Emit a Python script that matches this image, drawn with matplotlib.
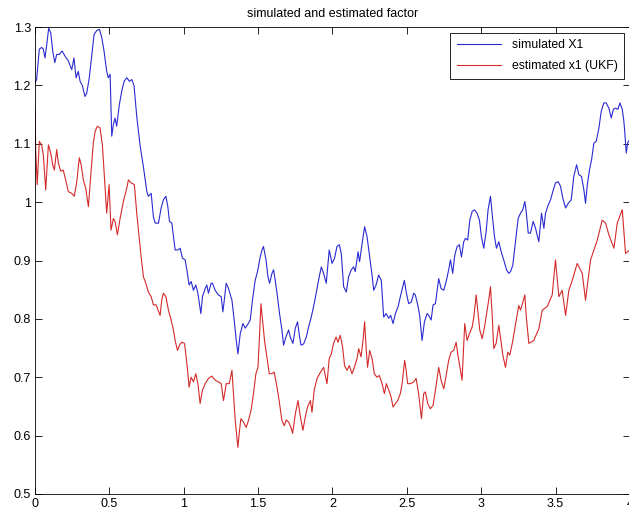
import matplotlib
matplotlib.use("Agg")
import matplotlib.pyplot as plt
import numpy as np

plt.rcParams['font.family'] = ['Liberation Sans', 'DejaVu Sans']

# time grid and simulated factor X1
t_sim = [0.000, 0.011, 0.029, 0.045, 0.056, 0.067, 0.079, 0.092, 0.106, 0.119,
         0.133, 0.146, 0.164, 0.182, 0.202, 0.224, 0.247, 0.262, 0.276, 0.291,
         0.303, 0.318, 0.336, 0.348, 0.365, 0.382, 0.397, 0.415, 0.433, 0.449,
         0.464, 0.482, 0.493, 0.505, 0.516, 0.527, 0.538, 0.549, 0.567, 0.583,
         0.599, 0.617, 0.635, 0.651, 0.666, 0.684, 0.707, 0.729, 0.752, 0.762,
         0.781, 0.796, 0.808, 0.830, 0.848, 0.863, 0.880, 0.893, 0.904, 0.920,
         0.931, 0.942, 0.960, 0.976, 0.991, 1.009, 1.021, 1.036, 1.050, 1.065,
         1.081, 1.095, 1.115, 1.126, 1.144, 1.155, 1.166, 1.184, 1.193, 1.211,
         1.233, 1.252, 1.263, 1.274, 1.285, 1.301, 1.324, 1.339, 1.353, 1.364,
         1.380, 1.398, 1.413, 1.429, 1.447, 1.462, 1.480, 1.496, 1.514, 1.526,
         1.536, 1.553, 1.566, 1.577, 1.593, 1.604, 1.615, 1.627, 1.644, 1.660,
         1.671, 1.687, 1.705, 1.716, 1.734, 1.750, 1.765, 1.777, 1.788, 1.806,
         1.824, 1.839, 1.857, 1.877, 1.896, 1.913, 1.925, 1.940, 1.958, 1.978,
         1.997, 2.014, 2.030, 2.046, 2.059, 2.075, 2.093, 2.108, 2.126, 2.142,
         2.153, 2.172, 2.182, 2.199, 2.216, 2.232, 2.250, 2.266, 2.277, 2.293,
         2.310, 2.328, 2.344, 2.360, 2.378, 2.391, 2.407, 2.423, 2.441, 2.456,
         2.472, 2.483, 2.497, 2.512, 2.530, 2.546, 2.557, 2.573, 2.586, 2.602,
         2.618, 2.636, 2.647, 2.663, 2.676, 2.692, 2.714, 2.730, 2.748, 2.766,
         2.781, 2.793, 2.808, 2.822, 2.838, 2.853, 2.867, 2.882, 2.894, 2.909,
         2.923, 2.939, 2.954, 2.972, 2.988, 3.001, 3.017, 3.033, 3.046, 3.062,
         3.073, 3.089, 3.102, 3.118, 3.134, 3.151, 3.170, 3.185, 3.197, 3.212,
         3.230, 3.248, 3.264, 3.279, 3.293, 3.302, 3.316, 3.331, 3.349, 3.365,
         3.387, 3.405, 3.421, 3.432, 3.450, 3.466, 3.481, 3.499, 3.517, 3.533,
         3.548, 3.567, 3.585, 3.605, 3.622, 3.641, 3.656, 3.674, 3.690, 3.701,
         3.713, 3.728, 3.742, 3.757, 3.773, 3.791, 3.807, 3.824, 3.840, 3.858,
         3.874, 3.888, 3.903, 3.919, 3.932, 3.948, 3.959, 3.966, 3.975, 3.984,
         3.997]
x_sim = [1.204, 1.210, 1.262, 1.265, 1.262, 1.247, 1.270, 1.298, 1.290, 1.259,
         1.239, 1.253, 1.253, 1.259, 1.250, 1.242, 1.227, 1.247, 1.213, 1.224,
         1.207, 1.200, 1.181, 1.187, 1.213, 1.253, 1.287, 1.294, 1.296, 1.282,
         1.259, 1.224, 1.213, 1.219, 1.113, 1.133, 1.144, 1.130, 1.167, 1.190,
         1.207, 1.213, 1.207, 1.210, 1.199, 1.147, 1.096, 1.060, 1.018, 1.010,
         1.015, 0.975, 0.964, 0.964, 0.990, 1.004, 1.010, 0.992, 0.967, 0.964,
         0.941, 0.918, 0.918, 0.921, 0.904, 0.901, 0.884, 0.858, 0.864, 0.849,
         0.858, 0.844, 0.809, 0.838, 0.852, 0.858, 0.844, 0.861, 0.861, 0.849,
         0.841, 0.838, 0.812, 0.835, 0.861, 0.852, 0.832, 0.798, 0.763, 0.740,
         0.775, 0.792, 0.784, 0.790, 0.798, 0.832, 0.866, 0.881, 0.906, 0.918,
         0.924, 0.901, 0.872, 0.861, 0.878, 0.884, 0.866, 0.844, 0.809, 0.781,
         0.755, 0.769, 0.781, 0.769, 0.758, 0.784, 0.795, 0.772, 0.755, 0.757,
         0.769, 0.786, 0.803, 0.826, 0.852, 0.875, 0.889, 0.878, 0.861, 0.918,
         0.895, 0.904, 0.924, 0.927, 0.912, 0.855, 0.846, 0.872, 0.884, 0.889,
         0.881, 0.915, 0.898, 0.929, 0.958, 0.941, 0.906, 0.875, 0.849, 0.858,
         0.875, 0.866, 0.803, 0.809, 0.801, 0.806, 0.792, 0.809, 0.821, 0.838,
         0.855, 0.866, 0.844, 0.826, 0.829, 0.844, 0.841, 0.824, 0.806, 0.763,
         0.795, 0.809, 0.806, 0.798, 0.824, 0.826, 0.869, 0.852, 0.849, 0.866,
         0.884, 0.901, 0.878, 0.909, 0.924, 0.927, 0.906, 0.932, 0.938, 0.935,
         0.969, 0.984, 0.987, 0.981, 0.969, 0.941, 0.921, 0.950, 0.987, 1.010,
         0.981, 0.941, 0.921, 0.932, 0.915, 0.901, 0.884, 0.878, 0.881, 0.892,
         0.932, 0.972, 0.981, 0.987, 1.001, 0.984, 0.947, 0.947, 0.967, 0.955,
         0.932, 0.981, 0.955, 0.981, 0.995, 1.004, 1.018, 1.033, 1.035, 1.027,
         1.007, 0.990, 0.998, 1.004, 1.044, 1.064, 1.047, 1.044, 1.021, 0.998,
         1.030, 1.056, 1.073, 1.101, 1.104, 1.127, 1.156, 1.170, 1.170, 1.161,
         1.144, 1.159, 1.161, 1.159, 1.170, 1.159, 1.138, 1.116, 1.084, 1.101,
         1.107]

# time grid and UKF estimate of x1
t_est = [0.000, 0.005, 0.015, 0.029, 0.045, 0.056, 0.072, 0.090, 0.106, 0.119,
         0.130, 0.146, 0.157, 0.173, 0.190, 0.209, 0.224, 0.247, 0.264, 0.281,
         0.298, 0.310, 0.325, 0.341, 0.359, 0.377, 0.392, 0.404, 0.419, 0.437,
         0.453, 0.471, 0.482, 0.498, 0.511, 0.527, 0.538, 0.554, 0.572, 0.594,
         0.617, 0.628, 0.646, 0.668, 0.684, 0.700, 0.713, 0.729, 0.745, 0.762,
         0.781, 0.796, 0.814, 0.841, 0.852, 0.863, 0.880, 0.897, 0.915, 0.931,
         0.942, 0.958, 0.971, 0.987, 1.005, 1.016, 1.028, 1.036, 1.050, 1.065,
         1.081, 1.095, 1.110, 1.126, 1.144, 1.166, 1.189, 1.211, 1.233, 1.252,
         1.267, 1.279, 1.285, 1.306, 1.324, 1.334, 1.346, 1.357, 1.364, 1.375,
         1.384, 1.402, 1.420, 1.435, 1.452, 1.469, 1.485, 1.499, 1.509, 1.519,
         1.530, 1.543, 1.559, 1.575, 1.593, 1.608, 1.627, 1.644, 1.660, 1.676,
         1.689, 1.705, 1.721, 1.732, 1.750, 1.768, 1.783, 1.801, 1.817, 1.832,
         1.851, 1.862, 1.877, 1.896, 1.913, 1.940, 1.963, 1.978, 1.992, 2.007,
         2.024, 2.037, 2.052, 2.068, 2.081, 2.098, 2.113, 2.131, 2.147, 2.165,
         2.176, 2.192, 2.205, 2.216, 2.227, 2.236, 2.250, 2.266, 2.281, 2.299,
         2.315, 2.333, 2.349, 2.362, 2.378, 2.394, 2.407, 2.423, 2.438, 2.456,
         2.468, 2.478, 2.485, 2.495, 2.505, 2.524, 2.546, 2.562, 2.579, 2.598,
         2.613, 2.624, 2.640, 2.658, 2.676, 2.692, 2.714, 2.730, 2.748, 2.766,
         2.781, 2.797, 2.815, 2.831, 2.845, 2.860, 2.871, 2.882, 2.889, 2.905,
         2.921, 2.939, 2.950, 2.966, 2.979, 2.990, 3.006, 3.022, 3.040, 3.050,
         3.062, 3.073, 3.084, 3.100, 3.118, 3.129, 3.145, 3.163, 3.178, 3.192,
         3.210, 3.230, 3.252, 3.264, 3.279, 3.293, 3.302, 3.320, 3.353, 3.387,
         3.410, 3.443, 3.477, 3.499, 3.522, 3.544, 3.567, 3.589, 3.612, 3.645,
         3.679, 3.701, 3.735, 3.780, 3.813, 3.836, 3.858, 3.892, 3.914, 3.948,
         3.970, 3.997]
x_est = [1.162, 1.087, 1.030, 1.104, 1.098, 1.081, 1.021, 1.098, 1.084, 1.064,
         1.055, 1.090, 1.067, 1.053, 1.055, 1.035, 1.018, 1.015, 1.010, 1.035,
         1.076, 1.064, 1.038, 1.024, 0.992, 1.053, 1.101, 1.121, 1.130, 1.127,
         1.098, 1.027, 0.981, 1.030, 0.952, 0.972, 0.967, 0.944, 0.972, 1.001,
         1.024, 1.038, 1.033, 1.030, 0.981, 0.941, 0.907, 0.872, 0.861, 0.846,
         0.838, 0.824, 0.824, 0.806, 0.832, 0.844, 0.838, 0.815, 0.798, 0.781,
         0.763, 0.746, 0.755, 0.760, 0.758, 0.735, 0.706, 0.683, 0.700, 0.692,
         0.706, 0.689, 0.655, 0.678, 0.689, 0.698, 0.702, 0.695, 0.692, 0.689,
         0.660, 0.678, 0.689, 0.689, 0.712, 0.672, 0.626, 0.597, 0.580, 0.609,
         0.629, 0.623, 0.614, 0.626, 0.643, 0.672, 0.706, 0.717, 0.769, 0.826,
         0.798, 0.763, 0.735, 0.706, 0.706, 0.709, 0.683, 0.655, 0.626, 0.617,
         0.627, 0.623, 0.614, 0.604, 0.637, 0.660, 0.634, 0.609, 0.632, 0.649,
         0.660, 0.640, 0.678, 0.698, 0.706, 0.717, 0.689, 0.732, 0.740, 0.758,
         0.769, 0.760, 0.772, 0.752, 0.720, 0.712, 0.720, 0.706, 0.717, 0.732,
         0.749, 0.735, 0.763, 0.795, 0.746, 0.717, 0.746, 0.732, 0.706, 0.700,
         0.703, 0.689, 0.672, 0.689, 0.678, 0.666, 0.649, 0.655, 0.660, 0.672,
         0.689, 0.712, 0.729, 0.712, 0.689, 0.689, 0.692, 0.698, 0.672, 0.629,
         0.672, 0.675, 0.655, 0.646, 0.652, 0.678, 0.717, 0.695, 0.680, 0.706,
         0.729, 0.743, 0.746, 0.760, 0.735, 0.712, 0.695, 0.752, 0.792, 0.763,
         0.775, 0.786, 0.803, 0.841, 0.809, 0.781, 0.766, 0.786, 0.815, 0.832,
         0.855, 0.809, 0.749, 0.758, 0.789, 0.769, 0.738, 0.717, 0.743, 0.738,
         0.760, 0.790, 0.823, 0.815, 0.828, 0.841, 0.806, 0.758, 0.763, 0.783,
         0.815, 0.821, 0.841, 0.901, 0.838, 0.849, 0.806, 0.849, 0.866, 0.895,
         0.878, 0.832, 0.901, 0.935, 0.969, 0.964, 0.944, 0.921, 0.964, 0.987,
         0.912, 0.918]

x_ticks = [0, 0.5, 1, 1.5, 2, 2.5, 3, 3.5, 4]
y_ticks = [0.5, 0.6, 0.7, 0.8, 0.9, 1.0, 1.1, 1.2, 1.3]

fig = plt.figure(figsize=(6.29, 5.23), dpi=100)
ax = fig.add_axes([35 / 629, 29 / 523, 595 / 629, 467 / 523])

ax.plot(t_sim, x_sim, color='#2a2ad2', lw=0.8, label='simulated X1')
ax.plot(t_est, x_est, color='#d42a2a', lw=0.8, label='estimated x1 (UKF)')

ax.set_xlim(0, 4)
ax.set_ylim(0.5, 1.3)
ax.set_xticks(x_ticks)
ax.set_xticklabels([f'{v:g}' for v in x_ticks])
ax.set_yticks(y_ticks)
ax.set_yticklabels([f'{v:g}' for v in y_ticks])
ax.tick_params(direction='in', length=5, width=0.6, top=True, right=True,
               labelsize=9, pad=3)
for s in ax.spines.values():
    s.set_linewidth(0.6)

ax.set_title('simulated and estimated factor', fontsize=9, pad=7)

leg = ax.legend(loc='upper right', fontsize=8.8, frameon=True, fancybox=False,
                edgecolor='black', framealpha=1, handlelength=3.6,
                borderaxespad=0.45, borderpad=0.55, labelspacing=0.75,
                handletextpad=0.9)
leg.get_frame().set_linewidth(0.6)

fig.savefig('out.png', dpi=100)
